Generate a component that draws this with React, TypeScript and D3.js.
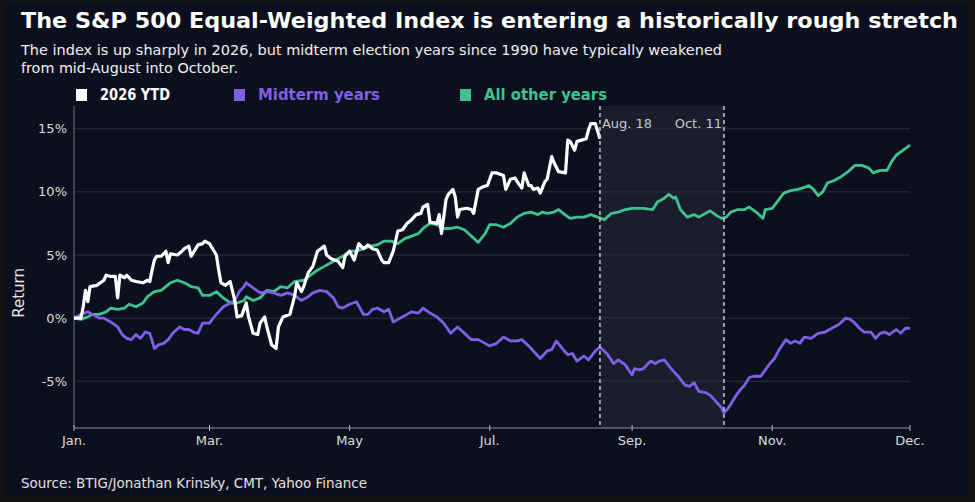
import React from 'react';
import * as d3 from 'd3';

// Cumulative return (%) by date
const ytd2026: [string, number][] = [
  ['01-01', 0], ['01-04', 0], ['01-05', 0.9], ['01-06', 2.2], ['01-07', 1.3], ['01-08', 2.5],
  ['01-11', 2.6], ['01-14', 3.0], ['01-15', 3.4], ['01-17', 3.3], ['01-19', 3.3], ['01-20', 1.6],
  ['01-21', 3.4], ['01-23', 3.2], ['01-24', 3.4], ['01-26', 3.0], ['01-28', 2.9], ['01-31', 2.8],
  ['02-02', 3.0], ['02-03', 2.9], ['02-04', 3.8], ['02-05', 4.6], ['02-06', 4.9], ['02-08', 4.9],
  ['02-10', 5.3], ['02-11', 4.4], ['02-12', 5.1], ['02-15', 5.0], ['02-17', 5.3], ['02-18', 5.5],
  ['02-20', 5.7], ['02-21', 4.9], ['02-23', 5.5], ['02-24', 5.8], ['02-26', 5.9], ['02-27', 6.1],
  ['03-01', 5.9], ['03-03', 5.3], ['03-04', 5.0], ['03-05', 3.8], ['03-06', 2.8], ['03-08', 2.6],
  ['03-10', 2.9], ['03-12', 1.4], ['03-13', 0.1], ['03-15', 0.2], ['03-17', 1.2], ['03-18', 0.1],
  ['03-20', -1.2], ['03-22', -1.3], ['03-23', -0.4], ['03-25', 0.1], ['03-26', -0.7], ['03-28', -2.1],
  ['03-30', -2.4], ['03-31', -0.7], ['04-02', 0.1], ['04-05', 0.3], ['04-07', 1.7], ['04-08', 2.8],
  ['04-10', 2.1], ['04-11', 2.5], ['04-13', 3.6], ['04-15', 4.1], ['04-17', 5.3], ['04-20', 5.7],
  ['04-21', 5.0], ['04-23', 4.7], ['04-26', 4.5], ['04-28', 4.0], ['04-29', 4.9], ['05-01', 5.3],
  ['05-03', 4.6], ['05-05', 5.9], ['05-07', 5.5], ['05-09', 5.8], ['05-11', 5.5], ['05-13', 5.4],
  ['05-15', 4.6], ['05-16', 4.4], ['05-18', 4.4], ['05-20', 5.3], ['05-22', 6.9], ['05-24', 7.0],
  ['05-26', 7.5], ['05-28', 7.8], ['05-30', 8.2], ['06-01', 8.3], ['06-02', 8.8], ['06-04', 9.0],
  ['06-05', 7.6], ['06-08', 7.5], ['06-09', 8.2], ['06-10', 6.7], ['06-12', 9.4], ['06-13', 9.8],
  ['06-15', 10.2], ['06-16', 9.6], ['06-17', 8.0], ['06-18', 8.6], ['06-21', 8.7], ['06-23', 8.6],
  ['06-24', 8.3], ['06-26', 10.2], ['06-28', 10.4], ['06-30', 10.5], ['07-02', 11.5], ['07-04', 11.5],
  ['07-07', 11.3], ['07-08', 10.2], ['07-10', 11.0], ['07-12', 11.1], ['07-13', 10.8], ['07-15', 10.3],
  ['07-16', 11.5], ['07-18', 10.5], ['07-19', 10.5], ['07-20', 10.2], ['07-22', 10.3], ['07-23', 9.9],
  ['07-25', 10.8], ['07-26', 11.0], ['07-28', 12.8], ['07-29', 12.3], ['07-31', 11.6], ['08-03', 11.5],
  ['08-04', 14.1], ['08-05', 14.0], ['08-07', 13.3], ['08-08', 14.0], ['08-10', 14.1], ['08-12', 14.2],
  ['08-13', 14.9], ['08-14', 15.4], ['08-16', 15.4], ['08-18', 14.2],
];

const midtermYears: [string, number][] = [
  ['01-01', 0], ['01-04', 0.3], ['01-07', 0.5], ['01-09', 0.3], ['01-12', 0], ['01-14', 0],
  ['01-17', -0.3], ['01-20', -0.7], ['01-22', -1.3], ['01-24', -1.6], ['01-26', -1.7], ['01-28', -1.3],
  ['01-30', -1.6], ['02-01', -1.1], ['02-03', -1.2], ['02-05', -2.4], ['02-07', -2.1], ['02-09', -2.0],
  ['02-11', -1.7], ['02-13', -1.2], ['02-16', -0.7], ['02-18', -0.9], ['02-20', -0.9], ['02-22', -1.1],
  ['02-24', -1.2], ['02-26', -0.4], ['03-01', -0.4], ['03-03', 0.1], ['03-05', 0.5], ['03-07', 0.9],
  ['03-09', 1.1], ['03-12', 1.4], ['03-14', 2.1], ['03-16', 2.5], ['03-17', 2.8], ['03-20', 2.4],
  ['03-23', 2.0], ['03-26', 2.1], ['03-29', 2.0], ['04-01', 1.8], ['04-04', 2.0], ['04-07', 1.8],
  ['04-10', 1.4], ['04-13', 1.7], ['04-15', 2.0], ['04-18', 2.2], ['04-21', 2.1], ['04-24', 1.6],
  ['04-26', 0.9], ['04-28', 0.8], ['05-01', 1.1], ['05-04', 1.3], ['05-07', 0.3], ['05-09', 0.3],
  ['05-11', 0.7], ['05-13', 0.8], ['05-16', 0.5], ['05-18', 0.7], ['05-20', -0.3], ['05-23', 0],
  ['05-26', 0.3], ['05-28', 0.5], ['05-31', 0.4], ['06-02', 0.8], ['06-05', 0.4], ['06-08', 0.1],
  ['06-11', -0.4], ['06-14', -1.2], ['06-17', -0.7], ['06-20', -1.2], ['06-23', -1.7], ['06-26', -1.7],
  ['06-29', -2.0], ['07-01', -2.2], ['07-04', -2.0], ['07-07', -1.5], ['07-10', -1.8], ['07-13', -1.8],
  ['07-15', -1.7], ['07-18', -2.2], ['07-20', -2.6], ['07-23', -3.2], ['07-26', -2.6], ['07-28', -2.5],
  ['07-30', -1.8], ['08-02', -2.5], ['08-04', -2.9], ['08-06', -2.8], ['08-08', -3.4], ['08-11', -3.0],
  ['08-13', -3.3], ['08-16', -2.6], ['08-18', -2.3], ['08-21', -2.8], ['08-24', -3.6], ['08-26', -3.3],
  ['08-29', -3.7], ['09-01', -4.5], ['09-02', -4.0], ['09-04', -4.1], ['09-06', -4.0], ['09-09', -3.4],
  ['09-11', -3.6], ['09-13', -3.4], ['09-15', -3.3], ['09-18', -4.0], ['09-21', -4.6], ['09-24', -5.3],
  ['09-26', -5.4], ['09-28', -5.1], ['09-30', -5.8], ['10-03', -5.9], ['10-05', -6.1], ['10-08', -6.7],
  ['10-10', -7.1], ['10-11', -7.5], ['10-13', -7.1], ['10-16', -6.2], ['10-18', -5.7], ['10-20', -5.3],
  ['10-22', -4.7], ['10-24', -4.6], ['10-27', -4.6], ['10-29', -4.1], ['10-31', -3.6], ['11-02', -3.2],
  ['11-04', -2.5], ['11-07', -1.7], ['11-09', -2.0], ['11-11', -1.8], ['11-13', -2.0], ['11-15', -1.5],
  ['11-18', -1.6], ['11-21', -1.2], ['11-24', -1.1], ['11-27', -0.8], ['11-30', -0.5], ['12-03', 0],
  ['12-05', -0.1], ['12-07', -0.4], ['12-09', -0.8], ['12-11', -1.1], ['12-14', -1.1], ['12-16', -1.6],
  ['12-18', -1.2], ['12-20', -1.1], ['12-22', -1.3], ['12-25', -0.9], ['12-27', -1.2], ['12-29', -0.8],
  ['12-31', -0.8],
];

const otherYears: [string, number][] = [
  ['01-01', 0], ['01-04', -0.1], ['01-07', 0.1], ['01-09', 0.3], ['01-12', 0.3], ['01-15', 0.5],
  ['01-17', 0.8], ['01-20', 0.7], ['01-23', 0.8], ['01-25', 1.1], ['01-28', 0.9], ['01-31', 1.2],
  ['02-02', 1.7], ['02-05', 2.1], ['02-08', 2.2], ['02-10', 2.5], ['02-12', 2.8], ['02-15', 3.0],
  ['02-18', 2.8], ['02-21', 2.5], ['02-24', 2.4], ['02-26', 1.8], ['03-01', 1.8], ['03-04', 2.1],
  ['03-07', 1.6], ['03-10', 1.2], ['03-13', 1.2], ['03-16', 1.4], ['03-17', 1.7], ['03-20', 1.4],
  ['03-23', 1.6], ['03-26', 2.2], ['03-29', 2.1], ['04-01', 2.5], ['04-04', 2.4], ['04-07', 2.9],
  ['04-11', 3.0], ['04-14', 3.4], ['04-17', 3.8], ['04-20', 4.1], ['04-23', 4.4], ['04-26', 4.7],
  ['04-28', 4.9], ['05-01', 5.3], ['05-04', 5.3], ['05-07', 5.5], ['05-10', 5.7], ['05-13', 5.8],
  ['05-16', 6.1], ['05-19', 6.1], ['05-22', 5.9], ['05-25', 6.3], ['05-28', 6.5], ['05-31', 6.7],
  ['06-02', 7.1], ['06-05', 7.5], ['06-08', 7.4], ['06-11', 7.1], ['06-14', 7.1], ['06-17', 7.2],
  ['06-20', 7.0], ['06-23', 6.5], ['06-26', 6.0], ['06-29', 6.7], ['07-01', 7.4], ['07-04', 7.4],
  ['07-07', 7.2], ['07-10', 7.5], ['07-13', 8.0], ['07-16', 8.3], ['07-19', 8.4], ['07-22', 8.2],
  ['07-24', 8.4], ['07-26', 8.3], ['07-29', 8.4], ['07-31', 8.6], ['08-02', 8.3], ['08-05', 7.9],
  ['08-08', 8.0], ['08-11', 8.0], ['08-14', 8.2], ['08-17', 8.0], ['08-20', 7.8], ['08-23', 8.3],
  ['08-26', 8.4], ['08-29', 8.6], ['09-01', 8.7], ['09-04', 8.7], ['09-06', 8.7], ['09-10', 8.6],
  ['09-12', 9.2], ['09-15', 9.5], ['09-17', 9.8], ['09-19', 9.5], ['09-20', 9.6], ['09-22', 8.6],
  ['09-25', 8.0], ['09-28', 8.2], ['09-30', 8.0], ['10-03', 8.3], ['10-05', 8.5], ['10-08', 8.1],
  ['10-10', 7.9], ['10-12', 8.0], ['10-14', 8.4], ['10-17', 8.6], ['10-20', 8.6], ['10-22', 8.8],
  ['10-25', 8.4], ['10-28', 7.9], ['10-29', 8.6], ['11-01', 8.7], ['11-04', 9.4], ['11-06', 9.9],
  ['11-09', 10.1], ['11-12', 10.2], ['11-14', 10.3], ['11-17', 10.5], ['11-19', 10.2], ['11-21', 9.7],
  ['11-23', 10.0], ['11-25', 10.7], ['11-28', 10.9], ['12-01', 11.2], ['12-04', 11.6], ['12-07', 12.1],
  ['12-10', 12.1], ['12-13', 11.9], ['12-15', 11.5], ['12-18', 11.7], ['12-21', 11.7], ['12-23', 12.4],
  ['12-25', 12.9], ['12-28', 13.3], ['12-31', 13.7],
];

const yTicks = [-5, 0, 5, 10, 15];
const monthTicks = ['01-01', '03-01', '05-01', '07-01', '09-01', '11-01', '12-31'];
const monthLabels = ['Jan.', 'Mar.', 'May', 'Jul.', 'Sep.', 'Nov.', 'Dec.'];
const windowDates = ['08-18', '10-11'];
const windowLabels = ['Aug. 18', 'Oct. 11'];

const legendItems = [
  { label: '2026 YTD', color: '#ffffff' },
  { label: 'Midterm years', color: '#7f5fe6' },
  { label: 'All other years', color: '#3fc290' },
];

const parse = d3.timeParse('%Y-%m-%d');
const toDate = (md: string) => parse(`2026-${md}`) as Date;

const W = 975;
const H = 502;
const margin = { top: 106, right: 65, bottom: 74, left: 74 };
const font = '"DejaVu Sans", sans-serif';

export default function App() {
  const x = d3.scaleTime()
    .domain([toDate('01-01'), toDate('12-31')])
    .range([margin.left, W - margin.right]);
  const y = d3.scaleLinear()
    .domain([-8.7, 16.8])
    .range([H - margin.bottom, margin.top]);

  const line = d3.line<[string, number]>()
    .x(d => x(toDate(d[0])))
    .y(d => y(d[1]));

  const x0 = margin.left;
  const x1 = W - margin.right;
  const yBottom = H - margin.bottom;
  const w0 = x(toDate(windowDates[0]));
  const w1 = x(toDate(windowDates[1]));

  return (
    <>
      <style>{`body{margin:0;background:#131313}`}</style>
      <svg width={W} height={H} style={{ display: 'block', fontFamily: font }}>
        <rect width={W} height={H} fill="#131313" />
        <rect x={5} y={3} width={962} height={493} fill="#0c101e" />

        {/* title block */}
        <text x={21} y={28} fill="#ffffff" fontSize={21} fontWeight="bold"
          textLength={937} lengthAdjust="spacingAndGlyphs">
          The S&amp;P 500 Equal-Weighted Index is entering a historically rough stretch
        </text>
        <text x={21} y={55} fill="#f0f0f0" fontSize={14} textLength={701} lengthAdjust="spacingAndGlyphs">
          The index is up sharply in 2026, but midterm election years since 1990 have typically weakened
        </text>
        <text x={21} y={73} fill="#f0f0f0" fontSize={14} textLength={217} lengthAdjust="spacingAndGlyphs">
          from mid-August into October.
        </text>

        {/* legend */}
        {legendItems.map((d, i) => {
          const lx = [76, 234, 460][i];
          const tw = [70, 122, 123][i];
          return (
            <g key={d.label}>
              <rect x={lx} y={89} width={11} height={12} fill={d.color} />
              <text x={lx + 24} y={100} fill={d.color} fontSize={15} fontWeight="bold"
                textLength={tw} lengthAdjust="spacingAndGlyphs">{d.label}</text>
            </g>
          );
        })}

        {/* highlighted window */}
        <rect x={w0} y={margin.top} width={w1 - w0} height={yBottom - margin.top} fill="#191d2c" />

        {/* grid */}
        {yTicks.map(t => (
          <g key={t}>
            <line x1={x0} x2={x1} y1={y(t)} y2={y(t)} stroke="#2b3042" strokeWidth={1} />
            <text x={x0 - 7} y={y(t)} dy="0.35em" textAnchor="end" fill="#dcdcdc" fontSize={13}>
              {t}%
            </text>
          </g>
        ))}

        {/* axes */}
        <line x1={x0} x2={x0} y1={margin.top} y2={yBottom} stroke="#6c7182" strokeWidth={1} />
        <line x1={x0} x2={x1} y1={yBottom} y2={yBottom} stroke="#8a8fa0" strokeWidth={1.2} />
        {monthTicks.map((m, i) => {
          const tx = x(toDate(m));
          return (
            <g key={m}>
              <line x1={tx} x2={tx} y1={yBottom - 3} y2={yBottom + 3} stroke="#b0b4c0" strokeWidth={1} />
              <text x={tx} y={yBottom + 17} textAnchor="middle" fill="#dcdcdc" fontSize={13}>
                {monthLabels[i]}
              </text>
            </g>
          );
        })}
        <text transform={`translate(24,${y(2)}) rotate(-90)`} textAnchor="middle" fill="#e6e6e6" fontSize={15}>
          Return
        </text>

        {/* series */}
        <path d={line(otherYears) || ''} fill="none" stroke="#3fc290" strokeWidth={2.8} strokeLinejoin="round" />
        <path d={line(midtermYears) || ''} fill="none" stroke="#7f5fe6" strokeWidth={2.8} strokeLinejoin="round" />
        <path d={line(ytd2026) || ''} fill="none" stroke="#ffffff" strokeWidth={3.2} strokeLinejoin="round" />

        {/* window markers */}
        {windowDates.map((m, i) => {
          const tx = x(toDate(m));
          return (
            <g key={m}>
              <line x1={tx} x2={tx} y1={margin.top} y2={yBottom} stroke="#d4d4d8"
                strokeWidth={1.4} strokeDasharray="4,3" />
              <text x={i === 0 ? tx + 2 : tx - 2} y={128} textAnchor={i === 0 ? 'start' : 'end'}
                fill="#c8c8cc" fontSize={13}>{windowLabels[i]}</text>
            </g>
          );
        })}

        <text x={21} y={488} fill="#e0e0e0" fontSize={14} textLength={346} lengthAdjust="spacingAndGlyphs">
          Source: BTIG/Jonathan Krinsky, CMT, Yahoo Finance
        </text>
      </svg>
    </>
  );
}
